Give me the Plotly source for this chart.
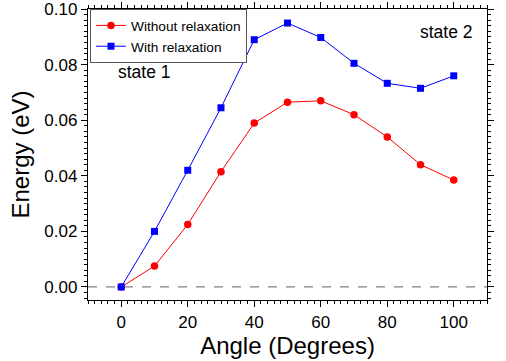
import plotly.graph_objects as go

angles = [0, 10, 20, 30, 40, 50, 60, 70, 80, 90, 100]
without_relax = [0.0, 0.0075, 0.0225, 0.0415, 0.059, 0.0665, 0.067, 0.062, 0.054, 0.044, 0.0385]
with_relax = [0.0, 0.020, 0.042, 0.0645, 0.089, 0.095, 0.0898, 0.0805, 0.0733, 0.0715, 0.076]

fig = go.Figure()
fig.add_trace(go.Scatter(x=angles, y=without_relax, mode="lines+markers", name="Without relaxation",
                         line=dict(color="#ff0000", width=1), marker=dict(symbol="circle", size=7.5, color="#ff0000")))
fig.add_trace(go.Scatter(x=angles, y=with_relax, mode="lines+markers", name="With relaxation",
                         line=dict(color="#0000ff", width=1), marker=dict(symbol="square", size=7, color="#0000ff")))

fig.add_shape(type="line", xref="paper", yref="y", x0=0, x1=1, y0=0, y1=0,
              line=dict(color="#808080", width=1.3, dash="dash"), layer="below")

font = "Arial, Liberation Sans, sans-serif"
axis_common = dict(showgrid=False, zeroline=False, showline=True, linecolor="black", linewidth=1.3,
                   mirror="allticks", ticks="outside", ticklen=6, tickwidth=1.3, tickcolor="black",
                   automargin=False,
                   tickfont=dict(family=font, size=17, color="black"))
fig.update_xaxes(range=[-10, 110], dtick=20, tick0=0,
                 minor=dict(dtick=2, ticklen=3, tickwidth=1, tickcolor="black", ticks="outside"),
                 title=dict(text="Angle (Degrees)", font=dict(family=font, size=24, color="black"), standoff=1),
                 **axis_common)
fig.update_yaxes(range=[-0.0047, 0.10005], dtick=0.02, tick0=0, tickformat=".2f",
                 minor=dict(dtick=0.002, ticklen=3, tickwidth=1, tickcolor="black", ticks="outside"),
                 title=dict(text="Energy (eV)", font=dict(family=font, size=24, color="black"), standoff=7),
                 **axis_common)

fig.add_annotation(x=-1.5, y=0.0775, text="state 1", showarrow=False, xanchor="left", yanchor="middle",
                   font=dict(family=font, size=17.5, color="black"))
fig.add_annotation(x=0.97, y=0.0918, xref="paper", text="state 2", showarrow=False, xanchor="right", yanchor="middle",
                   font=dict(family=font, size=17.5, color="black"))

fig.update_layout(
    width=506, height=361,
    margin=dict(l=88, r=19, t=9, b=61),
    plot_bgcolor="white", paper_bgcolor="white",
    showlegend=True,
    legend=dict(x=0.005, y=1.0, xanchor="left", yanchor="top", bgcolor="white",
                bordercolor="#555555", borderwidth=1, font=dict(family=font, size=13.7, color="black"),
                tracegroupgap=0),
)

fig.write_html("out.html", config={"displayModeBar": False},
               post_script="document.body.style.margin='0';")
